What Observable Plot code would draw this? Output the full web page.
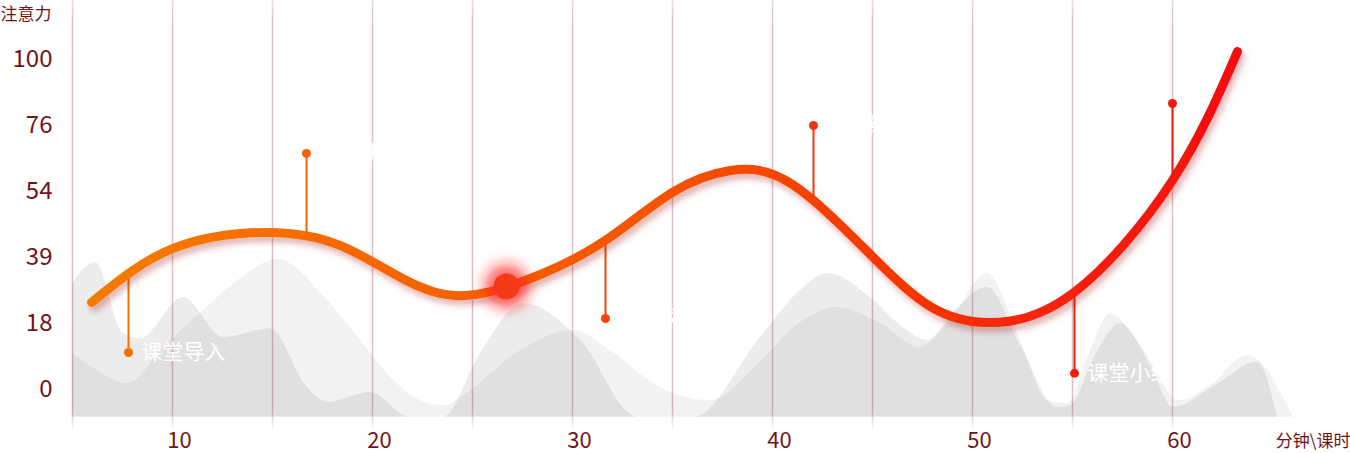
<!DOCTYPE html>
<html>
<head>
<meta charset="utf-8">
<script src="https://cdn.jsdelivr.net/npm/d3@7"></script>
<script src="https://cdn.jsdelivr.net/npm/@observablehq/plot@0.6"></script>
<style>
  body { margin: 0; background: #fff; }
  #chart svg { display: block; }
</style>
</head>
<body>
<div id="chart"></div>
<script>
// ticks
const yTicks = [0, 18, 39, 54, 76, 100]
const xTicks = [10, 20, 30, 40, 50, 60]
const gridX = [5, 10, 15, 20, 25, 30, 35, 40, 45, 50, 55, 60]
const yFloor = -7.6

// attention curve
const curveX = [5.95, 10, 14.75, 18.4, 21.5, 24.65, 28.4, 31.65, 35, 37.9, 41, 45, 47.9, 50.8, 55, 60, 63.25]
const curveY = [24.7, 41.0, 44.7, 41.7, 32.3, 26.9, 33.6, 42.9, 53.8, 61.0, 56.3, 39.2, 23.4, 18.3, 27.5, 57.7, 102.9]

// grey background hills (two layers)
const hillAX = [5, 6.4, 7.75, 9.65, 11.55, 13.4, 15.25, 17.75, 19.4, 21.05, 22.75, 23.65, 24.4, 27.4, 30.05, 31.9, 34.4, 36.9, 39.4, 41.4, 43.25, 45.4, 47.4, 48.9, 50.75, 52.4, 53.75, 54.75, 55.9, 56.9, 58.4, 60.4, 61.9, 63.75, 66.05]
const hillAY = [10.1, 4.6, 1.6, 12.0, 22.1, 32.3, 38.4, 25.3, 13.4, 2.5, -3.8, -4.4, -2.2, 10.6, 16.1, 10.6, 0.5, -3.0, 7.6, 18.3, 23.1, 18.0, 11.5, 19.0, 33.9, 13.4, -3.0, -3.8, 10.6, 21.2, 12.0, -3.0, 1.1, 9.3, -7.6]
const hillBX = [5, 6.15, 7.55, 8.4, 10.55, 12.55, 14.9, 16.75, 17.75, 19.9, 21.9, 23.55, 25.4, 27.55, 30.4, 33.25, 36.05, 39.4, 41.4, 42.75, 44.9, 46.4, 47.75, 49.15, 50.75, 52.4, 54.25, 54.9, 56.15, 57.4, 58.9, 60.05, 62.15, 64.25, 65.25]
const hillBY = [30.7, 37.4, 15.3, 13.9, 26.3, 14.2, 16.6, 0.5, -3.5, -0.8, -7.6, -7.6, 9.8, 24.4, 13.4, -7.6, -7.6, 14.2, 28.5, 33.9, 26.3, 17.5, 13.4, 22.1, 29.5, 12.0, -4.9, -4.4, 9.3, 18.0, 6.5, -4.9, 1.1, 7.4, -7.6]

// pins with labels
const pinX = [7.8, 16.7, 31.65, 42.05, 55.1, 60]
const pinDot = [10.1, 66.7, 19.6, 76, 4.4, 84]
const pinCurve = [33.9, 44.2, 42.9, 52.4, 27.5, 57.7]
const pinLabels = ["课堂导入", "新课讲授", "合作探究", "巩固练习", "课堂小结", "布置作业"]

const focus = [{x: 26.7, y: 29.8}]

// the y axis is evenly spaced between uneven tick values
const level = d3.scaleLinear().domain(yTicks).range(yTicks.map((d, i) => i))
const lv = key => d => level(d[key])

const curve = curveX.map((x, i) => ({x, y: curveY[i]}))
const hillA = hillAX.map((x, i) => ({x, y: hillAY[i]}))
const hillB = hillBX.map((x, i) => ({x, y: hillBY[i]}))
const pins = pinX.map((x, i) => ({x, dot: pinDot[i], top: pinCurve[i], label: pinLabels[i]}))

const pinColor = d3.interpolateRgb("#f47500", "#f5100c")
const tone = d => pinColor((d.x - 5) / 58)
const axisColor = "#721417"
const font = "'Noto Sans CJK SC', 'Noto Sans', sans-serif"

let chart = Plot.plot({
  width: 1350,
  height: 453,
  marginTop: 0,
  marginBottom: 21,
  marginLeft: 72,
  marginRight: 0,
  style: {fontFamily: font, background: "#fff"},
  x: {domain: [5, 65], range: [72, 1272], axis: null},
  y: {domain: [0, yTicks.length - 1], range: [389, 59], axis: null},
  color: {type: "identity"},
  marks: [
    Plot.areaY(hillA, {x: "x", y1: level(yFloor), y2: lv("y"), curve: "monotone-x", fill: "#000", fillOpacity: 0.05}),
    Plot.areaY(hillB, {x: "x", y1: level(yFloor), y2: lv("y"), curve: "monotone-x", fill: "#000", fillOpacity: 0.075}),
    Plot.ruleX(gridX, {stroke: "url(#gridFade)", strokeWidth: 1.5}),
    Plot.ruleX(pins, {x: "x", y1: lv("dot"), y2: lv("top"), stroke: tone, strokeWidth: 2}),
    Plot.dot(pins, {x: "x", y: lv("dot"), r: 4.5, fill: tone}),
    Plot.line(curve, {x: "x", y: lv("y"), curve: "natural", stroke: "url(#curveGrad)", strokeWidth: 9, strokeLinecap: "round"}),
    Plot.dot(focus, {x: "x", y: lv("y"), r: 22, fill: "#ff2020", fillOpacity: 0.7}),
    Plot.dot(focus, {x: "x", y: lv("y"), r: 13, fill: "#f33a18"}),
    Plot.text(pins.slice(0, 5), {x: "x", y: lv("dot"), text: "label", dx: 13, textAnchor: "start", lineAnchor: "middle", fill: "#fff", fontSize: 21}),
    Plot.text(pins.slice(5), {x: "x", y: lv("dot"), text: "label", dx: -16, textAnchor: "end", lineAnchor: "middle", fill: "#fff", fontSize: 21}),
    // tick labels
    Plot.text(xTicks, {x: d => d, frameAnchor: "bottom", dx: 7, dy: 8, lineAnchor: "middle", fill: axisColor, fontSize: 22}),
    Plot.text(yTicks, {y: d => level(d), frameAnchor: "left", dx: -20, textAnchor: "end", lineAnchor: "middle", fill: axisColor, fontSize: 24}),
    // axis titles
    Plot.text(["注意力"], {frameAnchor: "top-left", dx: -72, dy: 14.5, textAnchor: "start", lineAnchor: "middle", fill: axisColor, fontSize: 17}),
    Plot.text(["分钟\\课时"], {frameAnchor: "bottom-right", dy: 9.5, textAnchor: "end", lineAnchor: "middle", fill: axisColor, fontSize: 17})
  ]
})

/* gradients and filters */
const svg = d3.select(chart)
svg.insert("defs", ":first-child").html(`
  <linearGradient id="curveGrad" x1="0" y1="0" x2="1" y2="0">
    <stop offset="0%" stop-color="#f57a00"/>
    <stop offset="50%" stop-color="#f55300"/>
    <stop offset="100%" stop-color="#f60c0c"/>
  </linearGradient>
  <linearGradient id="gridFade" gradientUnits="userSpaceOnUse" x1="0" y1="0" x2="0" y2="432">
    <stop offset="0%" stop-color="#8c2a30" stop-opacity="0.15"/>
    <stop offset="5%" stop-color="#8c2a30" stop-opacity="0.3"/>
    <stop offset="95%" stop-color="#8c2a30" stop-opacity="0.3"/>
    <stop offset="100%" stop-color="#8c2a30" stop-opacity="0"/>
  </linearGradient>
  <filter id="curveShadow" x="-5%" y="-20%" width="110%" height="140%">
    <feDropShadow dx="3" dy="5" stdDeviation="3" flood-color="#a00010" flood-opacity="0.3"/>
  </filter>
  <filter id="glow" x="-100%" y="-100%" width="300%" height="300%">
    <feGaussianBlur stdDeviation="7"/>
  </filter>
`)
svg.select('g[aria-label="line"]').attr("filter", "url(#curveShadow)")
d3.select(svg.selectAll('g[aria-label="dot"]').nodes()[1]).attr("filter", "url(#glow)")

d3.select('#chart').append(() => chart)
</script>
</body>
</html>
